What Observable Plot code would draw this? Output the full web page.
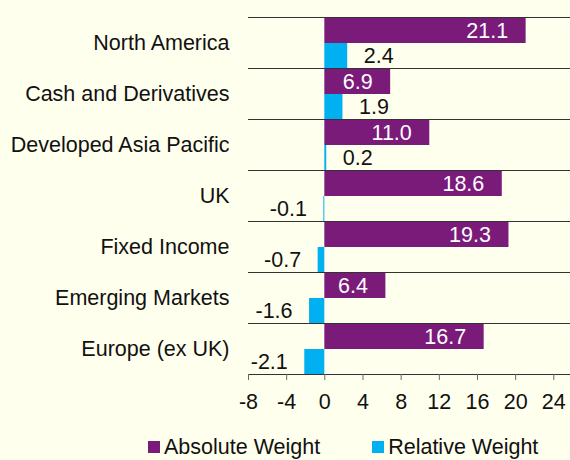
<!DOCTYPE html>
<html><head><meta charset="utf-8">
<script src="https://cdn.jsdelivr.net/npm/d3@7"></script>
<script src="https://cdn.jsdelivr.net/npm/@observablehq/plot@0.6"></script>
<style>
html,body{margin:0;padding:0;background:#FFFFEE;}
#chart{width:570px;height:460px;overflow:hidden;font-family:"Liberation Sans",Arial,sans-serif;}
.lg-swatches{margin:0 !important;min-height:0 !important;padding-top:10px;padding-left:148px;font-size:21.5px;line-height:24px;font-family:"Liberation Sans",Arial,sans-serif;color:#111;flex-wrap:nowrap !important;white-space:nowrap;display:flex;align-items:center;}
.lg-swatch{margin-right:52px !important;flex:none;}
.lg-swatch>svg{margin-right:4px !important;}
</style></head><body><div id="chart"></div>
<script>
const categories = ["North America","Cash and Derivatives","Developed Asia Pacific","UK","Fixed Income","Emerging Markets","Europe (ex UK)"];
const absoluteWeight = [21.1, 6.9, 11.0, 18.6, 19.3, 6.4, 16.7];
const relativeWeight = [2.4, 1.9, 0.2, -0.1, -0.7, -1.6, -2.1];
const seriesNames = ["Absolute Weight","Relative Weight"];
const xTicks = [-8,-4,0,4,8,12,16,20,24];
const colors = ["#7A1B7A","#00B0F0"];

const rows = categories.flatMap((c,i)=>[
  {category:c, series:seriesNames[0], value:absoluteWeight[i]},
  {category:c, series:seriesNames[1], value:relativeWeight[i]}
]);
const absRows = rows.filter(d=>d.series===seriesNames[0]);
const relPos = rows.filter(d=>d.series===seriesNames[1] && d.value>=0);
const relNeg = rows.filter(d=>d.series===seriesNames[1] && d.value<0);
const fmt = d=>d.value.toFixed(1);

const plot = Plot.plot({
  width:570, height:425, marginLeft:248, marginRight:0, marginTop:17, marginBottom:51,
  style:{background:"transparent", fontFamily:"'Liberation Sans',Arial,sans-serif", fontSize:"21.5px", color:"#111", overflow:"visible"},
  x:{domain:[-8,25.75]},
  y:{domain:seriesNames, padding:0, axis:null},
  fy:{domain:categories, padding:0},
  color:{domain:seriesNames, range:colors},
  marks:[
    Plot.barX(rows, {x:"value", y:"series", fy:"category", fill:"series"}),
    Plot.frame({anchor:"top", stroke:"#333"}),
    Plot.frame({anchor:"bottom", stroke:"#333"}),
    Plot.axisX({ticks:xTicks, tickSize:6, tickPadding:13, tickFormat:d=>String(d), label:null, stroke:"#666", fill:"#111"}),
    Plot.axisFy({anchor:"left", tickSize:0, tickPadding:19, label:null, fill:"#111"}),
    Plot.text(absRows, {x:"value", y:"series", fy:"category", text:fmt, textAnchor:"end", dx:-18, fill:"white"}),
    Plot.text(relPos, {x:"value", y:"series", fy:"category", text:fmt, textAnchor:"start", dx:16, fill:"#111"}),
    Plot.text(relNeg, {x:"value", y:"series", fy:"category", text:fmt, textAnchor:"end", dx:-17, fill:"#111"})
  ]
});
const chart = document.getElementById("chart");
chart.appendChild(plot);
const legend = Plot.legend({color:{domain:seriesNames, range:colors}, legend:"swatches", swatchSize:12, className:"lg"});
chart.appendChild(legend);
</script></body></html>
